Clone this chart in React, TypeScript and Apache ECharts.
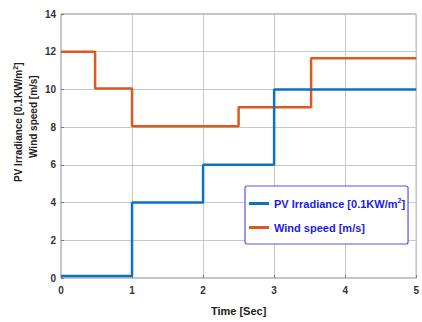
import React, { useEffect, useRef } from "react";
import * as echarts from "echarts";

const pvTimes = [0, 1, 2, 3, 5];
const pvValues = [0.1, 4, 6, 10, 10];
const windTimes = [0, 0.48, 1, 2.5, 3.52, 5];
const windValues = [12, 10.05, 8.05, 9.05, 11.65, 11.65];
const xTicks = [0, 1, 2, 3, 4, 5];
const yTicks = [0, 2, 4, 6, 8, 10, 12, 14];

const FONT = "'Liberation Sans', Arial, sans-serif";

export default function App() {
  const ref = useRef<HTMLDivElement>(null);
  useEffect(() => {
    if (!ref.current) return;
    const chart = echarts.init(ref.current, undefined, { renderer: "svg" });
    const pvData = pvTimes.map((t, i) => [t, pvValues[i]]);
    const windData = windTimes.map((t, i) => [t, windValues[i]]);
    chart.setOption({
      animation: false,
      backgroundColor: "#ffffff",
      textStyle: { fontFamily: FONT },
      grid: {
        left: 61,
        right: 3,
        top: 14,
        bottom: 44,
        show: true,
        borderColor: "#8a8a8a",
        borderWidth: 1,
      },
      xAxis: {
        type: "value",
        min: xTicks[0],
        max: xTicks[xTicks.length - 1],
        interval: 1,
        axisLine: { show: false },
        axisTick: { show: true, inside: true, length: 3, lineStyle: { color: "#777" } },
        axisLabel: { color: "#333", fontWeight: "bold", fontSize: 10, margin: 7, fontFamily: FONT },
        splitLine: { show: true, lineStyle: { color: "#c8c8c8", width: 1 } },
        name: "Time [Sec]",
        nameLocation: "middle",
        nameGap: 27,
        nameTextStyle: { color: "#222", fontWeight: "bold", fontSize: 11, fontFamily: FONT },
      },
      yAxis: {
        type: "value",
        min: yTicks[0],
        max: yTicks[yTicks.length - 1],
        interval: 2,
        axisLine: { show: false },
        axisTick: { show: true, inside: true, length: 3, lineStyle: { color: "#777" } },
        axisLabel: { color: "#333", fontWeight: "bold", fontSize: 10, margin: 5, fontFamily: FONT },
        splitLine: { show: true, lineStyle: { color: "#c8c8c8", width: 1 } },
      },
      legend: {
        orient: "vertical",
        left: 245,
        top: 186,
        padding: [11, 3, 11, 4],
        itemGap: 13,
        itemWidth: 20,
        itemHeight: 3,
        icon: "rect",
        borderColor: "#5555ee",
        borderWidth: 1.2,
        borderRadius: 2,
        backgroundColor: "#ffffff",
        textStyle: {
          color: "#1a1aee",
          fontWeight: "bold",
          fontSize: 11,
          fontFamily: FONT,
          rich: {
            a: { color: "#1a1aee", fontWeight: "bold", fontSize: 11, fontFamily: FONT },
            s: { color: "#1a1aee", fontWeight: "bold", fontSize: 7, fontFamily: FONT, verticalAlign: "top", padding: [0, 0, 6, 0] },
          },
        },
        formatter: (name: string) =>
          name === "PV Irradiance [0.1KW/m2]"
            ? "{a|PV Irradiance [0.1KW/m}{s|2}{a|]}"
            : "{a|" + name + "}",
        data: ["PV Irradiance [0.1KW/m2]", "Wind speed [m/s]"],
      },
      graphic: [
        {
          type: "text",
          x: 18,
          y: 182,
          rotation: Math.PI / 2,
          style: {
            text: "{a|PV Irradiance [0.1KW/m}{s|2}{a|]}",
            align: "left",
            verticalAlign: "middle",
            rich: {
              a: { fill: "#222", fontWeight: "bold", fontSize: 10, fontFamily: FONT },
              s: { fill: "#222", fontWeight: "bold", fontSize: 7, fontFamily: FONT, verticalAlign: "top", padding: [0, 0, 5, 0] },
            },
          },
        },
        {
          type: "text",
          x: 33,
          y: 158,
          rotation: Math.PI / 2,
          style: {
            text: "Wind speed [m/s]",
            align: "left",
            verticalAlign: "middle",
            fill: "#222",
            font: "bold 10px " + FONT,
          },
        },
      ],
      series: [
        {
          name: "PV Irradiance [0.1KW/m2]",
          type: "line",
          step: "end",
          symbol: "none",
          data: pvData,
          color: "#0b72c4",
          lineStyle: { color: "#0b72c4", width: 2.5 },
          z: 3,
        },
        {
          name: "Wind speed [m/s]",
          type: "line",
          step: "end",
          symbol: "none",
          data: windData,
          color: "#dd5a1e",
          lineStyle: { color: "#dd5a1e", width: 2.5 },
          z: 2,
        },
      ],
    });
    return () => chart.dispose();
  }, []);
  return <div ref={ref} style={{ width: 422, height: 322, position: "absolute", left: 0, top: 0 }} />;
}
